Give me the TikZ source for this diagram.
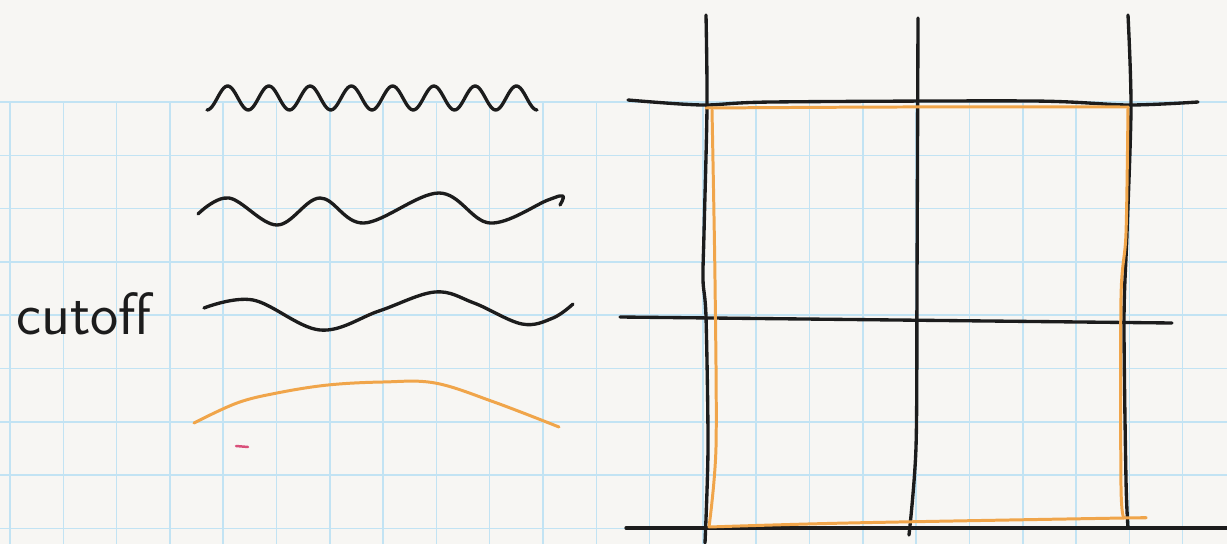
\documentclass[tikz,border=0pt]{standalone}
\usepackage{xcolor}
\usepackage{tikz}
\definecolor{paper}{HTML}{F7F6F3}
\definecolor{gridblue}{HTML}{C2E3F3}
\definecolor{penorange}{HTML}{F0A54A}
\definecolor{ink}{HTML}{1C1C1C}
\definecolor{pinkdash}{HTML}{D9507A}

\begin{document}
\begin{tikzpicture}[
  x=0.02cm, y=-0.02cm,
  paperline/.style={draw=gridblue, line width=0.9pt},
  pen/.style={draw=ink, line width=1.9pt, line cap=round, line join=round},
  hilite/.style={draw=penorange, line width=1.7pt, line cap=round, line join=round},
  handtext/.style={font=\fontsize{34}{34}\selectfont\sffamily, text=ink, inner sep=0pt}
]
  \fill[paper] (0,0) rectangle (1227,544);
  \useasboundingbox (0,0) rectangle (1227,544);

  % squared paper
  \foreach \gx in {0,...,22}
    \draw[paperline] ({10+53.3*\gx},102) -- ({10+53.3*\gx},544);
  \foreach \gy in {0,...,8}
    \draw[paperline] (0,{102+53.3*\gy}) -- (1227,{102+53.3*\gy});

  % modes, from fast to slow
  \draw[pen] plot[domain=207:537, samples=200] (\x, {98+12*cos((\x-207)/41.25*360)});
  \draw[pen] plot[smooth, tension=0.6] coordinates {
    (198,214) (229,198) (277,225) (320,198) (364,223) (439,193) (490,223) (548,200) (563,196) (560,205)};
  \draw[pen] plot[smooth, tension=0.6] coordinates {
    (204,308) (253,300) (320,330) (379,311) (435,292) (474,303) (522,324) (553,318) (573,304)};
  \draw[hilite] plot[smooth, tension=0.6] coordinates {
    (194,423) (237,403) (277,393) (328,385) (383,382) (435,383) (494,402) (559,427)};
  \draw[draw=pinkdash, line width=1.4pt, line cap=round] (236,446) -- (248,447);

  \node[handtext] (cutoff) at (84,314) {cutoff};

  % cells
  \draw[pen] plot[smooth] coordinates {(706,15) (707,107) (704,233) (703,280) (706,317) (708,447) (705,543)};
  \draw[pen] plot[smooth] coordinates {(918,18) (917,280) (916,447) (909,535)};
  \draw[pen] plot[smooth] coordinates {(1128,15) (1131,107) (1127,233) (1124,320) (1126,480) (1128,528)};
  \draw[pen] plot[smooth] coordinates {(628,100) (702,105) (772,102) (1032,101) (1128,105) (1198,102)};
  \draw[pen] (620,317) -- (1172,323);
  \draw[pen] (626,528) -- (1227,528);

  \draw[hilite] plot[smooth] coordinates {(706,108) (900,107) (1128,107)};
  \draw[hilite] plot[smooth] coordinates {(712,110) (715,280) (716,447) (709,527)};
  \draw[hilite] plot[smooth] coordinates {(709,527) (848,523) (1124,518) (1138,518)};
  \draw[hilite] plot[smooth] coordinates {(1128,107) (1126,233) (1121,297) (1121,487) (1124,518)};
\end{tikzpicture}
\end{document}
